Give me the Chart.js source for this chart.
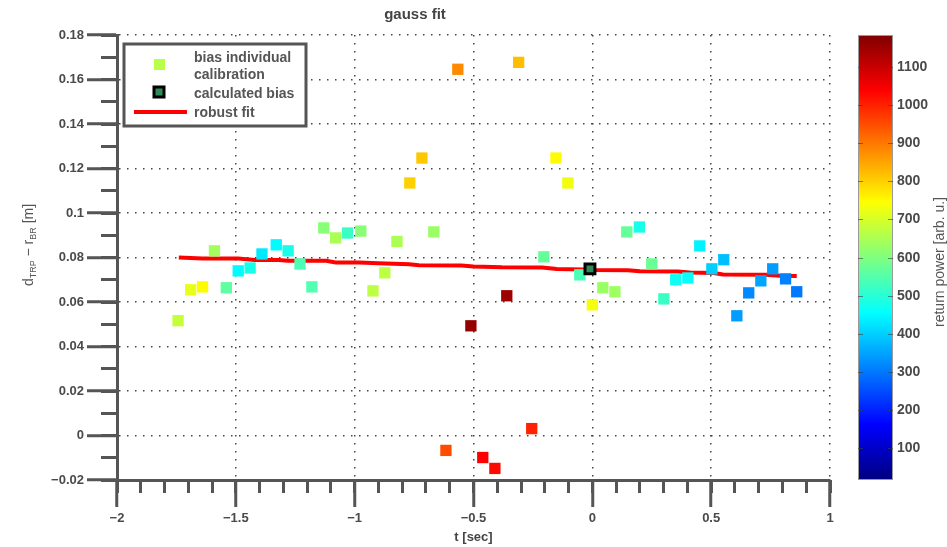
<!DOCTYPE html>
<html lang="en">
<head>
<meta charset="UTF-8">
<title>gauss fit</title>
<style>
  html, body { margin: 0; padding: 0; background: #fff; }
  canvas { display: block; }
</style>
</head>
<body>
<canvas id="chart" width="947" height="547"></canvas>
<script src="https://cdn.jsdelivr.net/npm/chart.js"></script>
<script>
// individual calibrations: time [s], bias [m], return power [arb. u.]
const tValues = [-1.743, -1.69, -1.64, -1.59, -1.54, -1.49, -1.44, -1.39, -1.33, -1.28,
  -1.23, -1.18, -1.13, -1.08, -1.03, -0.974, -0.923, -0.873, -0.822, -0.768,
  -0.717, -0.667, -0.616, -0.566, -0.511, -0.461, -0.41, -0.36, -0.31, -0.255,
  -0.204, -0.153, -0.103, -0.053, 0.0, 0.044, 0.095, 0.145, 0.198, 0.25,
  0.301, 0.351, 0.402, 0.452, 0.503, 0.553, 0.608, 0.658, 0.709, 0.759, 0.813, 0.86];
const biasValues = [0.0516, 0.0655, 0.0668, 0.083, 0.0664, 0.074, 0.0753, 0.0816, 0.0857, 0.083,
  0.0771, 0.0668, 0.0933, 0.0888, 0.091, 0.0919, 0.065, 0.0731, 0.0872, 0.1135,
  0.1247, 0.0915, -0.0067, 0.1646, 0.0493, -0.0099, -0.0148, 0.0628, 0.1677, 0.0031,
  0.0803, 0.1247, 0.1135, 0.0722, 0.0587, 0.0664, 0.0646, 0.0915, 0.0937, 0.0771,
  0.0614, 0.070, 0.0708, 0.0852, 0.0749, 0.079, 0.0538, 0.0641, 0.0695, 0.0749, 0.0704, 0.0646];
const powerValues = [680, 720, 750, 640, 560, 450, 480, 430, 450, 480,
  540, 545, 610, 650, 520, 610, 670, 670, 650, 800,
  810, 630, 950, 880, 1160, 1040, 1030, 1150, 820, 1000,
  570, 750, 730, 540, 735, 630, 635, 570, 480, 575,
  520, 470, 460, 440, 400, 380, 340, 320, 350, 340, 310, 300];

// calculated bias
const calcT = [-0.01];
const calcBias = [0.0749];

// robust fit
const fitT = [-1.74, -1.64, -1.49, -1.42, -1.32, -1.28, -1.12, -1.08, -0.98, -0.90,
  -0.77, -0.73, -0.55, -0.50, -0.38, -0.21, -0.15, -0.04, 0.0, 0.15,
  0.20, 0.36, 0.41, 0.51, 0.55, 0.73, 0.79, 0.86];
const fitBias = [0.0800, 0.0795, 0.0795, 0.0789, 0.0789, 0.0785, 0.0785, 0.0778, 0.0778, 0.0774,
  0.0770, 0.0765, 0.0764, 0.0760, 0.0756, 0.0755, 0.0748, 0.0746, 0.0744, 0.0743,
  0.0738, 0.0737, 0.0733, 0.0730, 0.0724, 0.0723, 0.0718, 0.0717];

const xTicks = [-2, -1.5, -1, -0.5, 0, 0.5, 1];
const yTicks = [-0.02, 0, 0.02, 0.04, 0.06, 0.08, 0.1, 0.12, 0.14, 0.16, 0.18];
const cbTicks = [100, 200, 300, 400, 500, 600, 700, 800, 900, 1000, 1100];
const powerMin = 15;
const powerMax = 1185;

const FONT = "'Liberation Sans', Arial, sans-serif";
const GRAY = '#555';

function jet(t) {
  const c = k => Math.round(255 * Math.max(0, Math.min(1, 1.5 - Math.abs(4 * t - k))));
  return `rgb(${c(3)},${c(2)},${c(1)})`;
}
const powerColor = v => jet((v - powerMin) / (powerMax - powerMin));

const fmt = v => (v < 0 ? '\u2212' : '') + String(Math.abs(+v.toFixed(3)));

Chart.defaults.font.family = FONT;
Chart.defaults.color = '#4a4a4a';

const majorGrid = (len) => ({
  color: '#444', lineWidth: 1.5,
  tickLength: len, tickColor: GRAY, tickWidth: 3
});
const majorBorder = { color: GRAY, width: 3, dash: [1.5, 6.5] };
const minorGrid = (len) => ({
  drawOnChartArea: false, tickLength: len, tickColor: GRAY, tickWidth: 3
});

const extras = {
  id: 'extras',
  afterDraw(chart) {
    const ctx = chart.ctx;
    const cb = chart.scales.cb;
    const top = cb.getPixelForValue(powerMax);
    const bot = cb.getPixelForValue(powerMin);

    // colorbar
    const g = ctx.createLinearGradient(0, bot, 0, top);
    for (let i = 0; i <= 40; i++) g.addColorStop(i / 40, jet(i / 40));
    ctx.save();
    ctx.fillStyle = g;
    ctx.fillRect(858, top, 35, bot - top);
    ctx.strokeStyle = '#999';
    ctx.lineWidth = 1;
    ctx.strokeRect(858.5, top + 0.5, 34, bot - top - 1);
    ctx.font = `bold 14px ${FONT}`;
    ctx.textBaseline = 'middle';
    ctx.textAlign = 'left';
    cbTicks.forEach(v => {
      const y = Math.round(cb.getPixelForValue(v)) + 0.5;
      ctx.strokeStyle = 'rgba(60,60,60,0.6)';
      ctx.beginPath();
      ctx.moveTo(858, y); ctx.lineTo(863, y);
      ctx.moveTo(888, y); ctx.lineTo(893, y);
      ctx.stroke();
      ctx.fillStyle = '#4a4a4a';
      ctx.fillText(String(v), 897, y);
    });

    // colorbar label
    ctx.save();
    ctx.translate(940, 262);
    ctx.rotate(-Math.PI / 2);
    ctx.font = `14px ${FONT}`;
    ctx.fillStyle = GRAY;
    ctx.textAlign = 'center';
    ctx.fillText('return power [arb. u.]', 0, 0);
    ctx.restore();

    // y axis label with subscripts
    ctx.save();
    ctx.translate(29, 245);
    ctx.rotate(-Math.PI / 2);
    ctx.fillStyle = GRAY;
    ctx.textAlign = 'left';
    const parts = [['d', 14, 0], ['TRP', 9, 5], [' \u2212 r', 14, 0], ['BR', 9, 5], [' [m]', 14, 0]];
    let total = 0;
    parts.forEach(p => { ctx.font = `${p[1]}px ${FONT}`; total += ctx.measureText(p[0]).width; });
    let x = -total / 2;
    parts.forEach(p => {
      ctx.font = `${p[1]}px ${FONT}`;
      ctx.fillText(p[0], x, p[2]);
      x += ctx.measureText(p[0]).width;
    });
    ctx.restore();

    // legend
    const ds = chart.data.datasets;
    ctx.fillStyle = '#fff';
    ctx.fillRect(124, 44, 182, 82);
    ctx.strokeStyle = GRAY;
    ctx.lineWidth = 3;
    ctx.strokeRect(124, 44, 182, 82);
    ctx.fillStyle = '#b9ff47';
    ctx.fillRect(154, 59, 11, 11);
    ctx.fillStyle = ds[1].backgroundColor;
    ctx.fillRect(154, 87, 10, 10);
    ctx.strokeStyle = ds[1].borderColor;
    ctx.lineWidth = 3;
    ctx.strokeRect(154, 87, 10, 10);
    ctx.strokeStyle = ds[2].borderColor;
    ctx.lineWidth = 4;
    ctx.beginPath();
    ctx.moveTo(134, 112); ctx.lineTo(187, 112);
    ctx.stroke();
    ctx.font = `bold 14px ${FONT}`;
    ctx.fillStyle = GRAY;
    ctx.fillText('bias individual', 194, 58);
    ctx.fillText('calibration', 194, 75);
    ctx.fillText('calculated bias', 194, 94);
    ctx.fillText('robust fit', 194, 113);
    ctx.restore();
  }
};

new Chart(document.getElementById('chart').getContext('2d'), {
  type: 'scatter',
  data: {
    datasets: [
      {
        label: 'bias individual calibration',
        data: tValues.map((t, i) => ({ x: t, y: biasValues[i] })),
        backgroundColor: powerValues.map(powerColor),
        borderWidth: 0,
        pointStyle: 'rect',
        pointRadius: 8,
        xAxisID: 'x', yAxisID: 'y',
        order: 2
      },
      {
        label: 'calculated bias',
        data: calcT.map((t, i) => ({ x: t, y: calcBias[i] })),
        backgroundColor: '#2e8b57',
        borderColor: '#000',
        borderWidth: 3,
        pointStyle: 'rect',
        pointRadius: 7,
        xAxisID: 'x', yAxisID: 'y',
        order: 0
      },
      {
        type: 'line',
        label: 'robust fit',
        data: fitT.map((t, i) => ({ x: t, y: fitBias[i] })),
        borderColor: '#ff0000',
        borderWidth: 4,
        pointRadius: 0,
        fill: false,
        tension: 0,
        xAxisID: 'x', yAxisID: 'y',
        order: 3
      }
    ]
  },
  options: {
    responsive: false,
    animation: false,
    layout: { padding: { left: 0, right: 117, top: 0, bottom: 0 } },
    plugins: {
      legend: { display: false },
      tooltip: { enabled: false },
      title: {
        display: true,
        text: 'gauss fit',
        color: '#444',
        font: { size: 15, weight: 'bold' },
        padding: { top: 6, bottom: 11 }
      }
    },
    scales: {
      x: {
        type: 'linear', position: 'bottom', min: -2, max: 1,
        afterBuildTicks: s => { s.ticks = xTicks.map(v => ({ value: v })); },
        afterFit: s => { s.height = 67; },
        ticks: { font: { size: 13, weight: 'bold' }, padding: 4, callback: fmt },
        grid: majorGrid(27),
        border: majorBorder,
        title: { display: true, text: 't [sec]', color: '#444', font: { size: 13, weight: 'bold' }, padding: { top: 0, bottom: 2 } }
      },
      y: {
        type: 'linear', position: 'left', min: -0.02, max: 0.18,
        afterBuildTicks: s => { s.ticks = yTicks.map(v => ({ value: v })); },
        afterFit: s => { s.width = 117; },
        ticks: { font: { size: 13, weight: 'bold' }, padding: 3, callback: fmt },
        grid: majorGrid(30),
        border: majorBorder
      },
      xm: {
        type: 'linear', axis: 'x', position: { y: -0.02 }, min: -2, max: 1,
        ticks: { display: false, stepSize: 0.1 },
        grid: minorGrid(13),
        border: { display: false }
      },
      ym: {
        type: 'linear', axis: 'y', position: { x: -2 }, min: -0.02, max: 0.18,
        ticks: { display: false, stepSize: 0.01 },
        grid: minorGrid(16),
        border: { display: false }
      },
      cb: {
        type: 'linear', axis: 'y', position: 'right', display: false,
        min: powerMin, max: powerMax
      }
    }
  },
  plugins: [extras]
});
</script>
</body>
</html>
